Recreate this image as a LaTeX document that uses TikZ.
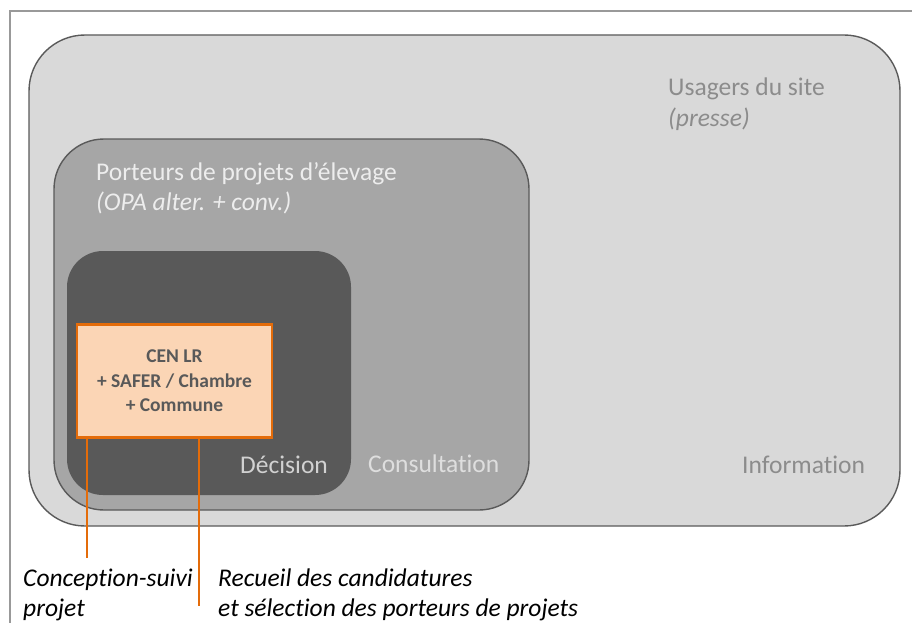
\documentclass[tikz,border=0pt]{standalone}
\usepackage{fontspec}
\setmainfont{Carlito}[Ligatures=NoCommon]
\usetikzlibrary{positioning,calc}

\definecolor{zoneA}{HTML}{D9D9D9}
\definecolor{zoneB}{HTML}{A6A6A6}
\definecolor{zoneC}{HTML}{595959}
\definecolor{edge}{HTML}{5A5A5A}
\definecolor{orangeL}{HTML}{E46C0A}
\definecolor{orangeF}{HTML}{FBD5B5}

\begin{document}
\begin{tikzpicture}[
    x=1pt, y=-1pt,
    zone/.style={draw=edge, line width=1.4pt},
    lbl/.style={anchor=base west, align=left, inner sep=0pt,
        font=\fontsize{25.5}{30}\selectfont},
    actorbox/.style={
        draw=orangeL,
        line width=2.4pt,
        fill=orangeF,
        minimum width=195pt,
        minimum height=113pt,
        align=center,
        text=zoneC,
        font=\fontsize{19.5}{24.5}\selectfont\bfseries
    },
    link/.style={orangeL, line width=2.4pt}
]

% --- Frame ---
\useasboundingbox (0,0) rectangle (912,623);
\clip (0,0) rectangle (912,623);
\fill[white] (0,0) rectangle (912,623);
\draw[black!40, line width=1.2pt] (10,11) rectangle (930,640);

% --- Nested zones ---
\draw[zone, fill=zoneA, rounded corners=56pt] (29,35) rectangle (900,526);
\draw[zone, fill=zoneB, rounded corners=50pt] (54,139) rectangle (529,510);
\fill[zoneC, rounded corners=36pt] (67,251) rectangle (351,495);

% --- Zone labels (base = last line) ---
\node[lbl, text=black!45] (usagers) at (668,126)
    {Usagers du site\\\textit{(presse)}};
\node[lbl, text=white!93!black] (porteurs) at (96,210)
    {Porteurs de projets d’élevage\\\textit{(OPA alter. + conv.)}};
\node[lbl, text=black!18] (decision) at (240,473) {Décision};
\node[lbl, text=black!13] (consult) at (368,472) {Consultation};
\node[lbl, text=black!45] (info) at (742,473) {Information};

% --- Core partners ---
\node[actorbox] (cen) at (174.5,381)
    {CEN LR\\+ SAFER / Chambre\\+ Commune};

% --- Roles ---
\coordinate (concEnd) at (87,558);
\coordinate (recEnd) at (199,606);
\draw[link] (cen.south -| concEnd) -- (concEnd);
\draw[link] (cen.south -| recEnd) -- (recEnd);

\node[lbl, font=\fontsize{25.5}{30}\selectfont\itshape] (concept) at (23,616)
    {Conception-suivi\\projet};
\node[lbl, font=\fontsize{25.5}{30}\selectfont\itshape] (recueil) at (218,616)
    {Recueil des candidatures\\et sélection des porteurs de projets};

\end{tikzpicture}
\end{document}
